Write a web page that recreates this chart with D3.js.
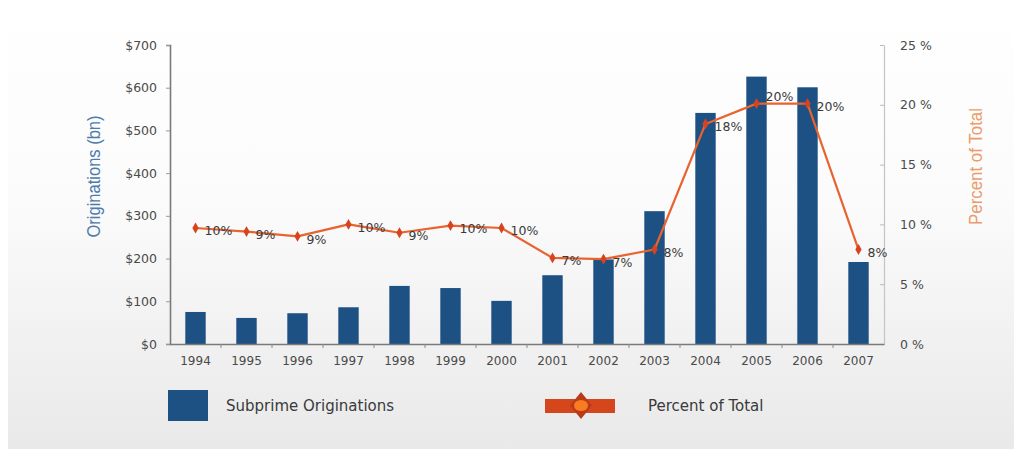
<!DOCTYPE html>
<html>
<head>
<meta charset="utf-8">
<script src="https://cdn.jsdelivr.net/npm/d3@7"></script>
<style>
  html, body { margin: 0; padding: 0; background: #fff; }
  svg { display: block; }
</style>
</head>
<body>
<svg id="chart" width="1014" height="449"></svg>
<script>
// Subprime mortgage originations and their share of all originations
const years = ["1994","1995","1996","1997","1998","1999","2000","2001","2002","2003","2004","2005","2006","2007"];
const originations = [75, 61, 72, 86, 136, 131, 101, 161, 198, 311, 541, 626, 601, 192];   // $ bn
const percentOfTotal = [9.7, 9.4, 9.0, 10.0, 9.3, 9.9, 9.7, 7.2, 7.1, 7.9, 18.4, 20.1, 20.1, 7.9]; // %
const leftTicks = [0, 100, 200, 300, 400, 500, 600, 700];
const rightTicks = [0, 5, 10, 15, 20, 25];

const svg = d3.select("#chart");
const W = 1014, H = 449;
const plot = { left: 170, right: 884, top: 45, bottom: 344 };

// soft page background
const defs = svg.append("defs");
const grad = defs.append("linearGradient").attr("id", "bg").attr("x1", 0).attr("y1", 0).attr("x2", 0).attr("y2", 1);
grad.append("stop").attr("offset", "0%").attr("stop-color", "#ffffff");
grad.append("stop").attr("offset", "45%").attr("stop-color", "#fbfbfb");
grad.append("stop").attr("offset", "100%").attr("stop-color", "#e9e9e9");
svg.append("rect").attr("x", 8).attr("y", 0).attr("width", W - 8).attr("height", H).attr("fill", "url(#bg)");

const x = d3.scaleBand().domain(years).range([plot.left, plot.right]).paddingInner(0.6).paddingOuter(0.3);
const yL = d3.scaleLinear().domain([0, 700]).range([plot.bottom, plot.top]);
const yR = d3.scaleLinear().domain([0, 25]).range([plot.bottom, plot.top]);

const tickFont = "'DejaVu Sans', Verdana, sans-serif";

// left axis
const axL = svg.append("g").attr("transform", `translate(${plot.left},0)`)
  .call(d3.axisLeft(yL).tickValues(leftTicks).tickFormat(d => "$" + d).tickSize(4).tickPadding(9));
axL.select(".domain").attr("stroke", "#7a7a7a").attr("stroke-width", 1.6);
axL.selectAll(".tick line").attr("stroke", "#999");
axL.selectAll("text").attr("font-family", tickFont).attr("font-size", 12.5).attr("fill", "#4a4a4a");

// right axis
const axR = svg.append("g").attr("transform", `translate(${plot.right},0)`)
  .call(d3.axisRight(yR).tickValues(rightTicks).tickFormat(d => d + " %").tickSize(0).tickPadding(16));
axR.select(".domain").attr("stroke", "#c4c4c4").attr("stroke-width", 1.2);
axR.selectAll(".tick").append("line").attr("x1", -4).attr("x2", 0).attr("stroke", "#bbb");
axR.selectAll("text").attr("font-family", tickFont).attr("font-size", 12.5).attr("fill", "#4a4a4a");

// bars
svg.append("g").selectAll("rect").data(years).join("rect")
  .attr("x", d => x(d))
  .attr("y", (d, i) => yL(originations[i]))
  .attr("width", x.bandwidth())
  .attr("height", (d, i) => plot.bottom - yL(originations[i]))
  .attr("fill", "#1d5183");

// bottom axis
const step = x.step();
const axB = svg.append("g").attr("transform", `translate(0,${plot.bottom})`)
  .call(d3.axisBottom(x).tickSize(0).tickPadding(12));
axB.select(".domain").attr("stroke", "#7a7a7a").attr("stroke-width", 1.6);
axB.selectAll("text").attr("font-family", tickFont).attr("font-size", 12).attr("fill", "#4a4a4a");
axB.selectAll(".sep").data(years.slice(1)).join("line").attr("class", "sep")
  .attr("x1", d => x(d) + x.bandwidth() / 2 - step / 2)
  .attr("x2", d => x(d) + x.bandwidth() / 2 - step / 2)
  .attr("y1", 0).attr("y2", 4).attr("stroke", "#888");

// percent line
const cx = d => x(d) + x.bandwidth() / 2;
const line = d3.line().x((d, i) => cx(years[i])).y(d => yR(d));
svg.append("path").datum(percentOfTotal).attr("d", line)
  .attr("fill", "none").attr("stroke", "#e8632f").attr("stroke-width", 2.2).attr("stroke-linejoin", "round");
const diamond = d3.symbol().type(d3.symbolDiamond).size(34);
svg.append("g").selectAll("path").data(percentOfTotal).join("path")
  .attr("d", diamond)
  .attr("transform", (d, i) => `translate(${cx(years[i])},${yR(d)})`)
  .attr("fill", "#d8431f");

// value labels
svg.append("g").selectAll("text").data(percentOfTotal).join("text")
  .attr("x", (d, i) => cx(years[i]) + 9)
  .attr("y", (d, i) => yR(d) + (i === 11 ? -6 : 4))
  .attr("dominant-baseline", "middle")
  .attr("font-family", tickFont).attr("font-size", 12.5).attr("fill", "#3a3a3a")
  .text(d => Math.round(d) + "%");

// axis titles (condensed look)
const titleFont = "'Liberation Sans Narrow', 'Liberation Sans', Arial, sans-serif";
svg.append("text")
  .attr("transform", `translate(95,${(plot.top + plot.bottom) / 2 - 18}) rotate(-90)`)
  .attr("text-anchor", "middle").attr("dominant-baseline", "middle")
  .attr("font-family", titleFont).attr("font-size", 19).attr("fill", "#4b7cab")
  .attr("textLength", 122).attr("lengthAdjust", "spacingAndGlyphs")
  .text("Originations (bn)");
svg.append("text")
  .attr("transform", `translate(977,${(plot.top + plot.bottom) / 2 - 28}) rotate(-90)`)
  .attr("text-anchor", "middle").attr("dominant-baseline", "middle")
  .attr("font-family", titleFont).attr("font-size", 19).attr("fill", "#eb9c6c")
  .attr("textLength", 117).attr("lengthAdjust", "spacingAndGlyphs")
  .text("Percent of Total");

// legend
const lg = svg.append("g");
lg.append("rect").attr("x", 168).attr("y", 390).attr("width", 40).attr("height", 31).attr("fill", "#1d5183");
lg.append("text").attr("x", 226).attr("y", 406).attr("dominant-baseline", "middle")
  .attr("font-family", tickFont).attr("font-size", 15).attr("fill", "#3a3a3a").text("Subprime Originations");
lg.append("rect").attr("x", 545).attr("y", 399).attr("width", 70).attr("height", 14).attr("fill", "#d6461d");
lg.append("path").attr("d", "M581,392 L592,405.5 L581,419 L570,405.5 Z").attr("fill", "#b83c1a");
lg.append("ellipse").attr("cx", 581).attr("cy", 405.5).attr("rx", 7).attr("ry", 5.5).attr("fill", "#fb7b20");
lg.append("text").attr("x", 648).attr("y", 406).attr("dominant-baseline", "middle")
  .attr("font-family", tickFont).attr("font-size", 15).attr("fill", "#3a3a3a").text("Percent of Total");
</script>
</body>
</html>
